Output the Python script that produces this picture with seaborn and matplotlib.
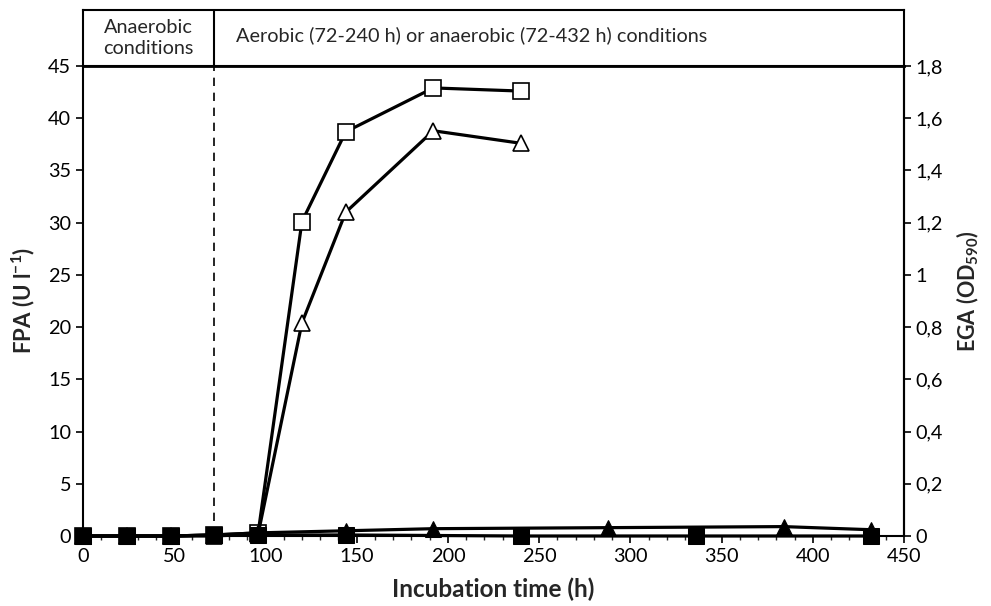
import matplotlib
matplotlib.use("Agg")
import matplotlib.pyplot as plt
import seaborn as sns
import pandas as pd
from matplotlib.ticker import MultipleLocator, FuncFormatter

sns.set_style("white")
plt.rcParams['font.family'] = ['Lato', 'DejaVu Sans']
plt.rcParams['mathtext.fontset'] = 'custom'
plt.rcParams['mathtext.rm'] = 'Lato'
plt.rcParams['mathtext.bf'] = 'Lato:bold'

# Data (FPA units on left axis)
t_open = [0, 24, 48, 72, 96, 120, 144, 192, 240]
open_sq = [0.0, 0.0, 0.0, 0.1, 0.3, 30.1, 38.7, 42.9, 42.6]
open_tri = [0.0, 0.0, 0.0, 0.0, 0.2, 20.4, 31.0, 38.8, 37.6]
t_ftri = [0, 24, 48, 72, 96, 144, 192, 288, 384, 432]
filled_tri = [0.0, 0.0, 0.0, 0.1, 0.3, 0.5, 0.7, 0.8, 0.9, 0.6]
t_fsq = [0, 24, 48, 72, 96, 144, 240, 336, 432]
filled_sq = [0.0, 0.0, 0.0, 0.1, 0.1, 0.1, 0.0, 0.0, 0.0]

fig = plt.figure(figsize=(9.91, 6.06), dpi=100)
L, R = 83 / 991, 904 / 991
B, T = (606 - 536) / 606, (606 - 66) / 606
ax = fig.add_axes([L, B, R - L, T - B])

lw = 2.3
ms = 11
common = dict(ax=ax, color='black', lw=lw, clip_on=False)
sns.lineplot(x=t_open, y=open_sq, marker='s', ms=ms,
             mfc='white', mec='black', mew=1.2, zorder=3, **common)
sns.lineplot(x=t_open, y=open_tri, marker='^', ms=ms + 1,
             mfc='white', mec='black', mew=1.2, zorder=3, **common)
sns.lineplot(x=t_ftri, y=filled_tri, marker='^', ms=ms + 1,
             mfc='black', mec='black', zorder=4, **common)
sns.lineplot(x=t_fsq, y=filled_sq, marker='s', ms=ms + 0.5,
             mfc='black', mec='black', zorder=5, **common)

ax.set_xlim(0, 450)
ax.set_ylim(0, 45)
ax.xaxis.set_major_locator(MultipleLocator(50))
ax.xaxis.set_minor_locator(MultipleLocator(10))
ax.yaxis.set_major_locator(MultipleLocator(5))
ax.axvline(72, color='black', lw=1.2, ls=(0, (5, 4)), zorder=1)

for s in ['left', 'bottom', 'right']:
    ax.spines[s].set_color('black')
    ax.spines[s].set_linewidth(1.5)
ax.spines['top'].set_color('black')
ax.spines['top'].set_linewidth(2)

ax.tick_params(axis='both', which='major', direction='out', length=5, width=1.2,
               labelsize=14.3, colors='black', bottom=True, left=True)
ax.tick_params(axis='x', which='minor', direction='out', length=3, width=1.0, bottom=True)
ax.set_xlabel('Incubation time (h)', fontsize=17.5, fontweight='bold', labelpad=9)
ax.set_ylabel('FPA (U l$^{\\mathbf{-1}}$)', fontsize=16, fontweight='bold', labelpad=8)

ax2 = ax.twinx()
ax2.set_ylim(0, 1.8)
ax2.yaxis.set_major_locator(MultipleLocator(0.2))
ax2.yaxis.set_major_formatter(FuncFormatter(lambda v, p: ('%.1f' % v).rstrip('0').rstrip('.').replace('.', ',') if v != 0 else '0'))
ax2.tick_params(axis='y', direction='out', length=5, width=1.2, labelsize=14.3, colors='black', right=True)
ax2.set_ylabel('EGA (OD$_{\\mathbf{590}}$)', fontsize=15.5, fontweight='bold', rotation=90)
ax2.yaxis.set_label_coords(1.062, 0.52)
for s in ax2.spines.values():
    s.set_visible(False)
ax2.spines['right'].set_visible(True)
ax2.spines['right'].set_linewidth(1.5)
ax2.spines['right'].set_color('black')

# header box
hb = (606 - 66) / 606
ht = (606 - 10) / 606
axh = fig.add_axes([L, hb, R - L, ht - hb])
axh.set_xlim(0, 450)
axh.set_ylim(0, 1)
axh.set_xticks([])
axh.set_yticks([])
for s in axh.spines.values():
    s.set_color('black')
    s.set_linewidth(1.5)
axh.axvline(72, color='black', lw=1.5)
axh.text(36, 0.5, 'Anaerobic\nconditions', ha='center', va='center', fontsize=14.3, linespacing=1.3)
axh.text(84, 0.55, 'Aerobic (72-240 h) or anaerobic (72-432 h) conditions', ha='left', va='center',
         fontsize=14.3)

fig.savefig('out.png', dpi=100)
